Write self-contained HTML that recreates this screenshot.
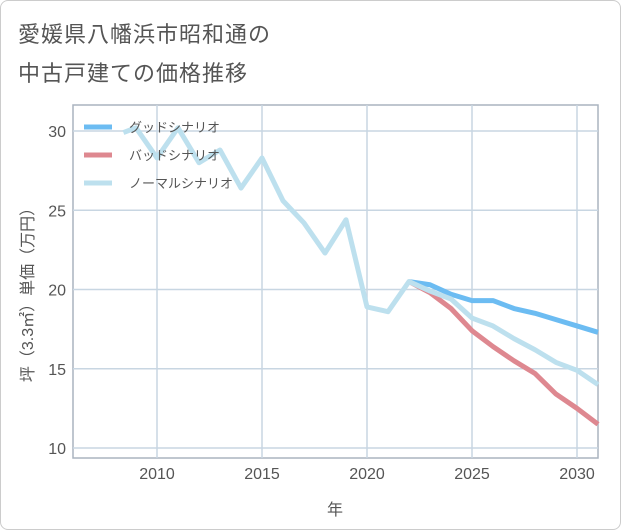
<!DOCTYPE html>
<html><head><meta charset="utf-8"><style>
body{margin:0;background:#fff;}
#card{position:absolute;left:0;top:0;width:619px;height:528px;border:1px solid #ccc;border-radius:8px;background:#fff;overflow:hidden;}
.t{position:absolute;left:17px;font:22px "Liberation Sans","Noto Sans CJK JP",sans-serif;color:#555;letter-spacing:1px;}
svg text{font-family:"Liberation Sans","Noto Sans CJK JP",sans-serif;}
</style></head><body>
<div id="card">
<div class="t" style="top:16px">愛媛県八幡浜市昭和通の</div>
<div class="t" style="top:55px">中古戸建ての価格推移</div>
<svg id="chart" width="621" height="530" style="position:absolute;left:0;top:0"></svg>
</div>
<script>
const xTicks=[2010,2015,2020,2025,2030];
const yTicks=[10,15,20,25,30];
const normalYears=[2008.4,2009,2010,2011,2012,2013,2014,2015,2016,2017,2018,2019,2020,2021,2022,2023,2024,2025,2026,2027,2028,2029,2030,2031];
const normalVals=[29.9,30.2,28.3,30.2,28.0,28.8,26.4,28.3,25.6,24.2,22.3,24.4,18.9,18.6,20.5,19.9,19.4,18.2,17.7,16.9,16.2,15.4,14.9,14.0];
const futureYears=[2022,2023,2024,2025,2026,2027,2028,2029,2030,2031];
const goodVals=[20.5,20.3,19.7,19.3,19.3,18.8,18.5,18.1,17.7,17.3];
const badVals=[20.5,19.8,18.8,17.4,16.4,15.5,14.7,13.4,12.5,11.5];
const L=72,R=597,T=104,B=457;
const x=v=>L+(v-2006)/(2031-2006)*(R-L);
const y=v=>130+(30-v)*15.85;
const svg=document.getElementById('chart');const NS='http://www.w3.org/2000/svg';
function mk(t,a,p){const e=document.createElementNS(NS,t);for(const k in a)e.setAttribute(k,a[k]);(p||svg).appendChild(e);return e;}
const frame=mk('rect',{x:L,y:T,width:R-L,height:B-T,fill:'none',stroke:'#aab4bf','stroke-width':1.5});


xTicks.forEach(v=>{const g=mk('line',{x1:x(v),x2:x(v),y1:T,y2:B,stroke:'#c8d6e2','stroke-width':1.5});


const t=mk('text',{x:x(v),y:478,'text-anchor':'middle','font-size':16,fill:'#555'});t.textContent=v;

});
yTicks.forEach(v=>{const g=mk('line',{x1:L,x2:R,y1:y(v),y2:y(v),stroke:'#c8d6e2','stroke-width':1.5});


const t=mk('text',{x:65,y:y(v)+6,'text-anchor':'end','font-size':16,fill:'#555'});t.textContent=v;

});
function line(xs,vs,c,n){const p=mk('polyline',{points:xs.map((a,i)=>x(a)+','+y(vs[i])).join(' '),fill:'none',stroke:c,'stroke-width':5,'stroke-linejoin':'round'});

}
line(futureYears,goodVals,'#6cbcf2','good-scenario-line');
line(futureYears,badVals,'#de8890','bad-scenario-line');
line(normalYears,normalVals,'#bde0ee','normal-scenario-line');
[['グッドシナリオ','#6cbcf2',126],['バッドシナリオ','#de8890',154],['ノーマルシナリオ','#bde0ee',182]].forEach(([s,c,yy])=>{
const g=mk('g',{});


mk('line',{x1:83,x2:111,y1:yy,y2:yy,stroke:c,'stroke-width':5},g);
const t=mk('text',{x:128,y:yy+5,'font-size':13,fill:'#555'},g);t.textContent=s;});
const xt=mk('text',{x:334,y:514,'text-anchor':'middle','font-size':16,fill:'#555'});xt.textContent='年';


const yt=mk('text',{x:0,y:0,'text-anchor':'middle','font-size':16,fill:'#555',transform:'translate(32,290) rotate(-90)'});yt.textContent='坪（3.3㎡）単価（万円）';


</script>
</body></html>
